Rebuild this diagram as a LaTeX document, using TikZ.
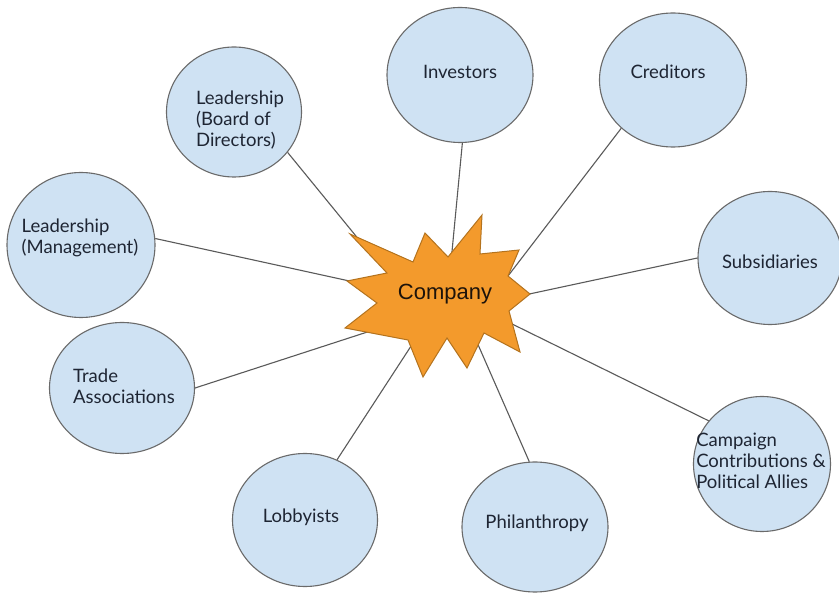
\documentclass[tikz,border=0pt]{standalone}
\usepackage{fontspec}
\setmainfont{Lato}
\newfontfamily\arialfont{Liberation Sans}
\usetikzlibrary{shapes.geometric}
\definecolor{bubblefill}{HTML}{CFE2F3}
\definecolor{bubbleline}{HTML}{6A6A6A}
\definecolor{txt}{HTML}{1E2533}
\definecolor{linkc}{HTML}{5A5A5A}
\definecolor{starfill}{HTML}{F39A2C}
\definecolor{starline}{HTML}{B4731E}
\tikzset{
  bubble/.style={ellipse, draw=bubbleline, line width=1.1pt, fill=bubblefill, inner sep=0pt, minimum width=#1},
  bubble/.default=145pt,
  btext/.style={text=txt, font=\fontsize{18.5}{21}\selectfont, align=left, inner sep=0pt},
  link/.style={draw=linkc, line width=1.1pt},
}
\begin{document}
\begin{tikzpicture}[x=1pt,y=-1pt]
\useasboundingbox (0,0) rectangle (839,593);
\fill[white] (0,0) rectangle (839,593);
% bubbles
\node[bubble=135pt, minimum height=130pt] (board) at (234,112) {};
\node[bubble=146pt, minimum height=135pt] (inv) at (460,75) {};
\node[bubble=147pt, minimum height=134pt] (cred) at (673,80) {};
\node[bubble=148pt, minimum height=145pt] (mgmt) at (81,245) {};
\node[bubble=144pt, minimum height=133pt] (subs) at (770,258) {};
\node[bubble=145pt, minimum height=131pt] (trade) at (122,388) {};
\node[bubble=137pt, minimum height=135pt] (camp) at (762,464) {};
\node[bubble=145pt, minimum height=133pt] (lob) at (305,520) {};
\node[bubble=146pt, minimum height=130pt] (phil) at (535,527) {};
% texts
\node[btext] (tboard) at (240,120) {Leadership\\(Board of\\Directors)};
\node[btext] (tinv) at (460,72) {Investors};
\node[btext] (tcred) at (668,72) {Creditors};
\node[btext] (tmgmt) at (80,238) {Leadership\\(Management)};
\node[btext] (tsubs) at (770,262) {Subsidiaries};
\node[btext] (ttrade) at (124,386) {Trade\\Associations};
\node[btext] (tcamp) at (761,461) {Campaign\\Contributions \&\\Political Allies};
\node[btext] (tlob) at (301,517) {Lobbyists};
\node[btext] (tphil) at (537,523) {Philanthropy};
% connector ends on the star
\coordinate (eboard) at (360,241);
\coordinate (einv) at (451,262);
\coordinate (ecred) at (508,276);
\coordinate (emgmt) at (354,282);
\coordinate (esubs) at (520,296);
\coordinate (etrade) at (392,324);
\coordinate (ecamp) at (504,320);
\coordinate (elob) at (415,340);
\coordinate (ephil) at (476,340);
\draw[link] (board.-37) -- (eboard);
\draw[link] (inv.-88) -- (einv);
\draw[link] (cred.-137) -- (ecred);
\draw[link] (mgmt.5) -- (emgmt);
\draw[link] (subs.180) -- (esubs);
\draw[link] (trade.0) -- (etrade);
\draw[link] (camp.141) -- (ecamp);
\draw[link] (lob.62) -- (elob);
\draw[link] (phil.95) -- (ephil);
% star
\filldraw[fill=starfill, draw=starline, line width=1pt, line join=miter]
  (350,234) -- (413,262) -- (425,233) -- (448,257) -- (482,215) -- (480,254)
  -- (519,250) -- (508,276) -- (530,294) -- (509,311) -- (520,352) -- (484,333)
  -- (467,368) -- (447,338) -- (423,377) -- (408,340) -- (345,328) -- (377,303)
  -- (347,281) -- (387,273) -- cycle;
\node[font=\arialfont\fontsize{22}{24}\selectfont, text=black!85!brown, inner sep=0pt] (company) at (445,294) {Company};
\end{tikzpicture}
\end{document}
